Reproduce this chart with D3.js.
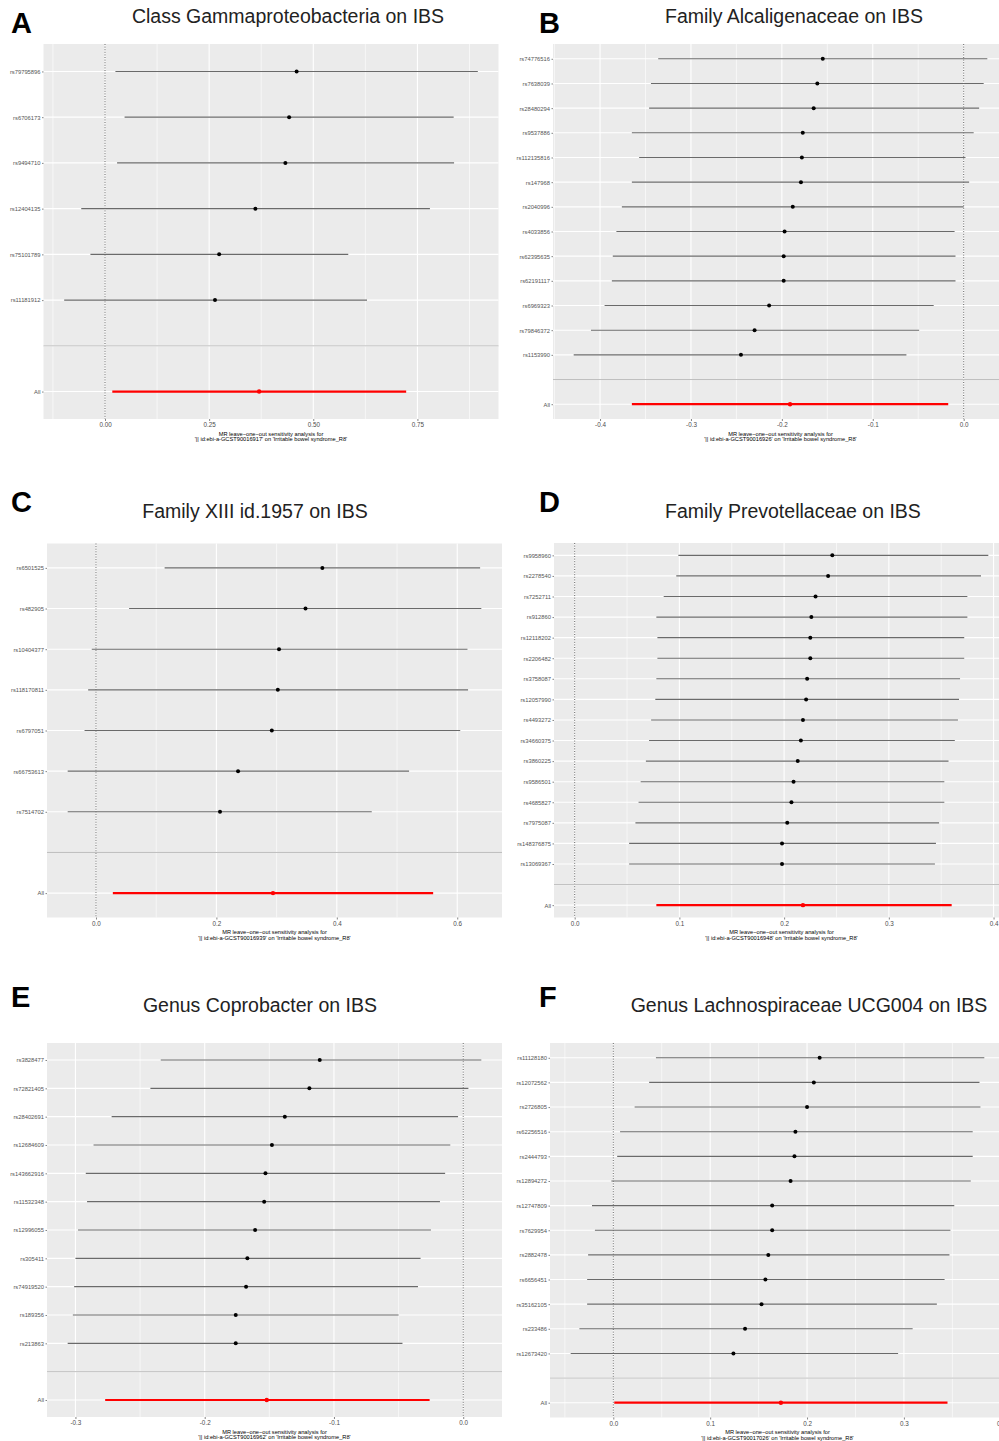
<!DOCTYPE html>
<html>
<head>
<meta charset="utf-8">
<script src="https://cdn.jsdelivr.net/npm/d3@7"></script>
<style>
  body { margin: 0; background: #fff; }
  svg { display: block; font-family: "Liberation Sans", Arial, sans-serif; }
</style>
</head>
<body>
<div id="chart"></div>
<script>
// Panel A - Class Gammaproteobacteria
var snpsA = ["rs79795896", "rs6706173", "rs9494710", "rs12404135", "rs75101789", "rs11181912"];
var estA = [0.46, 0.442, 0.433, 0.361, 0.274, 0.264];
var loA = [0.025, 0.047, 0.029, -0.057, -0.035, -0.098];
var hiA = [0.895, 0.837, 0.838, 0.78, 0.584, 0.629];
var allA = [0.37, 0.0175, 0.723];
var ticksA = [0, 0.25, 0.5, 0.75];
var tickLabelsA = ["0.00", "0.25", "0.50", "0.75"];

// Panel B - Family Alcaligenaceae
var snpsB = ["rs74776516", "rs7638039", "rs28480294", "rs9537886", "rs112135816", "rs147968", "rs2040996",
  "rs4033856", "rs62395635", "rs62191117", "rs6969323", "rs79846372", "rs1153990"];
var estB = [-0.155, -0.161, -0.165, -0.177, -0.178, -0.179, -0.188, -0.197, -0.198, -0.198, -0.214, -0.23, -0.245];
var loB = [-0.336, -0.344, -0.346, -0.365, -0.357, -0.365, -0.376, -0.382, -0.386, -0.387, -0.395, -0.41, -0.429];
var hiB = [0.026, 0.022, 0.017, 0.011, 0.002, 0.006, 0.0, -0.01, -0.009, -0.009, -0.033, -0.049, -0.063];
var allB = [-0.191, -0.365, -0.017];
var ticksB = [-0.4, -0.3, -0.2, -0.1, 0];
var tickLabelsB = ["-0.4", "-0.3", "-0.2", "-0.1", "0.0"];

// Panel C - Family XIII id.1957
var snpsC = ["rs6501525", "rs482905", "rs10404377", "rs118170811", "rs6797051", "rs66753613", "rs7514702"];
var estC = [0.376, 0.348, 0.304, 0.302, 0.292, 0.236, 0.206];
var loC = [0.114, 0.055, -0.007, -0.013, -0.019, -0.047, -0.047];
var hiC = [0.638, 0.64, 0.617, 0.618, 0.605, 0.52, 0.458];
var allC = [0.294, 0.028, 0.56];
var ticksC = [0, 0.2, 0.4, 0.6];
var tickLabelsC = ["0.0", "0.2", "0.4", "0.6"];

// Panel D - Family Prevotellaceae
var snpsD = ["rs9958960", "rs2278540", "rs7252711", "rs912860", "rs12118202", "rs2206482", "rs3758087", "rs12057990",
  "rs4493272", "rs34660375", "rs3860225", "rs9586501", "rs4685827", "rs7975087", "rs148376875", "rs13069367"];
var estD = [0.246, 0.242, 0.23, 0.226, 0.225, 0.225, 0.222, 0.221, 0.218, 0.216, 0.213, 0.209, 0.207, 0.203, 0.198, 0.198];
var loD = [0.099, 0.097, 0.085, 0.078, 0.079, 0.079, 0.078, 0.077, 0.073, 0.071, 0.068, 0.063, 0.061, 0.058, 0.052, 0.052];
var hiD = [0.395, 0.388, 0.375, 0.375, 0.372, 0.372, 0.368, 0.367, 0.366, 0.363, 0.357, 0.353, 0.353, 0.348, 0.345, 0.344];
var allD = [0.218, 0.078, 0.36];
var ticksD = [0, 0.1, 0.2, 0.3, 0.4];
var tickLabelsD = ["0.0", "0.1", "0.2", "0.3", "0.4"];

// Panel E - Genus Coprobacter
var snpsE = ["rs3828477", "rs72821405", "rs28402691", "rs12684609", "rs143662916", "rs11532348", "rs12996055",
  "rs305411", "rs74919520", "rs189356", "rs213863"];
var estE = [-0.111, -0.119, -0.138, -0.148, -0.153, -0.154, -0.161, -0.167, -0.168, -0.176, -0.176];
var loE = [-0.234, -0.242, -0.272, -0.286, -0.292, -0.291, -0.298, -0.3, -0.301, -0.302, -0.306];
var hiE = [0.014, 0.004, -0.004, -0.01, -0.014, -0.018, -0.025, -0.033, -0.035, -0.05, -0.047];
var allE = [-0.152, -0.277, -0.026];
var ticksE = [-0.3, -0.2, -0.1, 0];
var tickLabelsE = ["-0.3", "-0.2", "-0.1", "0.0"];

// Panel F - Genus Lachnospiraceae UCG004
var snpsF = ["rs11128180", "rs12072562", "rs2726805", "rs62256516", "rs2444793", "rs12894272", "rs12747809",
  "rs7629954", "rs2882478", "rs6656451", "rs35162105", "rs233486", "rs12673420"];
var estF = [0.213, 0.207, 0.2, 0.188, 0.187, 0.183, 0.164, 0.164, 0.16, 0.157, 0.153, 0.136, 0.124];
var loF = [0.044, 0.037, 0.022, 0.007, 0.004, -0.002, -0.022, -0.019, -0.026, -0.027, -0.027, -0.035, -0.044];
var hiF = [0.383, 0.378, 0.379, 0.371, 0.371, 0.369, 0.352, 0.348, 0.347, 0.342, 0.334, 0.309, 0.294];
var allF = [0.173, 0.001, 0.345];
var ticksF = [0, 0.1, 0.2, 0.3, 0.4];
var tickLabelsF = ["0.0", "0.1", "0.2", "0.3", "0.4"];

var letters = ["A", "B", "C", "D", "E", "F"];
var titles = ["Class Gammaproteobacteria on IBS", "Family Alcaligenaceae on IBS", "Family XIII id.1957 on IBS",
  "Family Prevotellaceae on IBS", "Genus Coprobacter on IBS", "Genus Lachnospiraceae UCG004 on IBS"];
var gwasIds = ["GCST90016917", "GCST90016926", "GCST90016939", "GCST90016948", "GCST90016962", "GCST90017026"];

var panels = [
  { snps: snpsA, est: estA, lo: loA, hi: hiA, all: allA, ticks: ticksA, tickLabels: tickLabelsA },
  { snps: snpsB, est: estB, lo: loB, hi: hiB, all: allB, ticks: ticksB, tickLabels: tickLabelsB },
  { snps: snpsC, est: estC, lo: loC, hi: hiC, all: allC, ticks: ticksC, tickLabels: tickLabelsC },
  { snps: snpsD, est: estD, lo: loD, hi: hiD, all: allD, ticks: ticksD, tickLabels: tickLabelsD },
  { snps: snpsE, est: estE, lo: loE, hi: hiE, all: allE, ticks: ticksE, tickLabels: tickLabelsE },
  { snps: snpsF, est: estF, lo: loF, hi: hiF, all: allF, ticks: ticksF, tickLabels: tickLabelsF }
];

// where each panel sits on the page
var boxes = [
  { left: 43.5, top: 44, bottom: 419, titleX: 288, titleY: 23, letterX: 11, letterY: 33 },
  { left: 553, top: 44, bottom: 419, titleX: 794, titleY: 23, letterX: 539, letterY: 33 },
  { left: 47, top: 543.5, bottom: 917.5, titleX: 255, titleY: 518, letterX: 11, letterY: 512 },
  { left: 554, top: 543, bottom: 917.5, titleX: 793, titleY: 518, letterX: 539, letterY: 512 },
  { left: 47, top: 1043, bottom: 1417, titleX: 260, titleY: 1012, letterX: 11, letterY: 1007 },
  { left: 550, top: 1043, bottom: 1417.5, titleX: 809, titleY: 1012, letterX: 539, letterY: 1007 }
];
var panelWidth = 455;

var svgWidth = 999;
var svgHeight = 1441;

var svg = d3.select("#chart")
  .append("svg")
  .attr("width", svgWidth)
  .attr("height", svgHeight);

panels.forEach(function(p, i) {
  var b = boxes[i];

  // x domain like ggplot: data range (with the 0 line) expanded by 5%
  var ext = d3.extent(p.lo.concat(p.hi, p.all, [0]));
  var pad = (ext[1] - ext[0]) * 0.05;
  var x = d3.scaleLinear()
    .domain([ext[0] - pad, ext[1] + pad])
    .range([b.left, b.left + panelWidth]);

  var rows = p.snps.concat(["", "All"]);
  var y = d3.scalePoint()
    .domain(rows)
    .range([b.top, b.bottom])
    .padding(0.6);

  var g = svg.append("g");

  g.append("rect")
    .attr("x", b.left)
    .attr("y", b.top)
    .attr("width", panelWidth)
    .attr("height", b.bottom - b.top)
    .attr("fill", "#EBEBEB");

  // minor gridlines halfway between the major ticks
  var step = p.ticks[1] - p.ticks[0];
  var dom = x.domain();
  var minor = [];
  for (var v = p.ticks[0] - step / 2; v <= dom[1]; v += step) {
    if (v >= dom[0]) minor.push(v);
  }
  g.selectAll(".minor")
    .data(minor)
    .enter().append("line")
    .attr("x1", d => x(d)).attr("x2", d => x(d))
    .attr("y1", b.top).attr("y2", b.bottom)
    .attr("stroke", "#fff").attr("stroke-width", 0.6);

  g.selectAll(".major")
    .data(p.ticks.filter(d => d >= dom[0] && d <= dom[1]))
    .enter().append("line")
    .attr("x1", d => x(d)).attr("x2", d => x(d))
    .attr("y1", b.top).attr("y2", b.bottom)
    .attr("stroke", "#fff").attr("stroke-width", 1.1);

  g.selectAll(".hgrid")
    .data(rows)
    .enter().append("line")
    .attr("x1", b.left).attr("x2", b.left + panelWidth)
    .attr("y1", d => y(d)).attr("y2", d => y(d))
    .attr("stroke", "#fff").attr("stroke-width", 1.1);

  // dotted line at zero
  g.append("line")
    .attr("x1", x(0)).attr("x2", x(0))
    .attr("y1", b.top).attr("y2", b.bottom)
    .attr("stroke", "#666")
    .attr("stroke-width", 1)
    .attr("stroke-dasharray", "1,1.6");

  // separator between SNPs and the overall estimate
  g.append("line")
    .attr("x1", b.left).attr("x2", b.left + panelWidth)
    .attr("y1", y("")).attr("y2", y(""))
    .attr("stroke", "#BEBEBE").attr("stroke-width", 1);

  // leave-one-out intervals
  g.selectAll(".ci")
    .data(p.snps)
    .enter().append("line")
    .attr("x1", (d, j) => x(p.lo[j]))
    .attr("x2", (d, j) => x(p.hi[j]))
    .attr("y1", d => y(d)).attr("y2", d => y(d))
    .attr("stroke", "#6a6a6a").attr("stroke-width", 1.1);

  g.selectAll(".pt")
    .data(p.snps)
    .enter().append("circle")
    .attr("cx", (d, j) => x(p.est[j]))
    .attr("cy", d => y(d))
    .attr("r", 2)
    .attr("fill", "#000");

  // overall estimate in red
  g.append("line")
    .attr("x1", x(p.all[1])).attr("x2", x(p.all[2]))
    .attr("y1", y("All")).attr("y2", y("All"))
    .attr("stroke", "#FF0000").attr("stroke-width", 2.2);
  g.append("circle")
    .attr("cx", x(p.all[0]))
    .attr("cy", y("All"))
    .attr("r", 2.2)
    .attr("fill", "#FF0000");

  // axes
  var xAxis = g.append("g")
    .attr("transform", `translate(0, ${b.bottom})`)
    .call(d3.axisBottom(x)
      .tickValues(p.ticks)
      .tickFormat((d, j) => p.tickLabels[j])
      .tickSize(2)
      .tickPadding(2));
  xAxis.select(".domain").remove();
  xAxis.selectAll("line").attr("stroke", "#333").attr("stroke-width", 0.6);
  xAxis.selectAll("text").attr("font-size", 6.3).attr("fill", "#4D4D4D")
    .attr("font-family", "Liberation Sans, Arial, sans-serif");

  var yAxis = g.append("g")
    .attr("transform", `translate(${b.left}, 0)`)
    .call(d3.axisLeft(y)
      .tickValues(rows.filter(d => d !== ""))
      .tickSize(1.5)
      .tickPadding(1.5));
  yAxis.select(".domain").remove();
  yAxis.selectAll("line").attr("stroke", "#333").attr("stroke-width", 0.6);
  yAxis.selectAll("text").attr("font-size", 5.8).attr("fill", "#555")
    .attr("font-family", "Liberation Sans, Arial, sans-serif");

  // caption under the x axis
  var cx = b.left + panelWidth / 2;
  g.append("text")
    .attr("x", cx).attr("y", b.bottom + 16.5)
    .attr("text-anchor", "middle")
    .attr("font-size", 5.7)
    .attr("fill", "#000")
    .text("MR leave\u2212one\u2212out sensitivity analysis for");
  g.append("text")
    .attr("x", cx).attr("y", b.bottom + 22.3)
    .attr("text-anchor", "middle")
    .attr("font-size", 5.7)
    .attr("fill", "#000")
    .text(" '|| id:ebi-a-" + gwasIds[i] + "' on 'Irritable bowel syndrome_R8'");

  // panel title and letter
  svg.append("text")
    .attr("x", b.titleX).attr("y", b.titleY)
    .attr("text-anchor", "middle")
    .attr("font-size", 19.5)
    .attr("fill", "#222")
    .text(titles[i]);
  svg.append("text")
    .attr("x", b.letterX).attr("y", b.letterY)
    .attr("font-size", 29)
    .attr("font-weight", "bold")
    .attr("fill", "#000")
    .text(letters[i]);
});
</script>
</body>
</html>
